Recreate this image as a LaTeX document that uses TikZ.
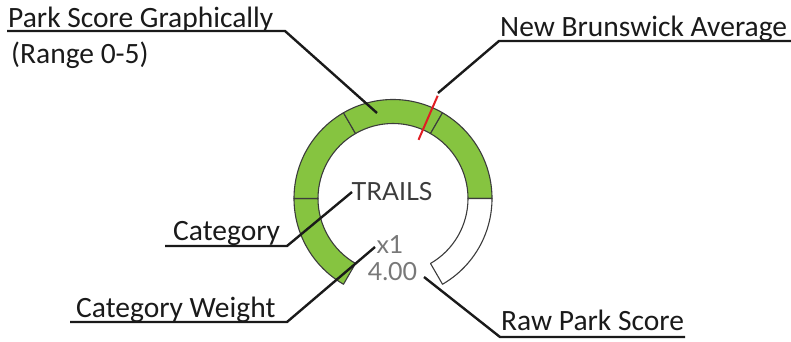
\documentclass[tikz,border=0pt]{standalone}
\usepackage{fontspec}
\setmainfont{Carlito}
\newfontfamily\gaugefont{Lato}
\usetikzlibrary{calc}
\definecolor{ringgreen}{RGB}{134,196,64}
\definecolor{ringline}{RGB}{60,60,60}
\definecolor{leader}{RGB}{26,26,26}
\definecolor{avgred}{RGB}{225,30,36}
\definecolor{catgray}{RGB}{60,60,60}
\definecolor{numgray}{RGB}{120,120,120}
\begin{document}
\begin{tikzpicture}[x=1pt,y=1pt,
  lbl/.style={inner sep=0pt, anchor=base west, font=\fontsize{29.5}{35}\selectfont, text=leader},
  gaugetext/.style={inner sep=0pt, anchor=base, font=\gaugefont\fontsize{25}{30}\selectfont},
  leaderline/.style={draw=leader, line width=2.4pt},
  seg/.style={draw=ringline, line width=1.1pt, line join=round},
]
\useasboundingbox (0,0) rectangle (791,341);
\coordinate (c) at (393,142.5);
% gauge segments
\foreach \a in {240,180,120,60}{
  \draw[seg, fill=ringgreen] ($(c)+(\a:99)$) arc[start angle=\a, delta angle=-60, radius=99]
    -- ($(c)+(\a-60:75)$) arc[start angle=\a-60, delta angle=60, radius=75] -- cycle;
}
\draw[seg, fill=white] ($(c)+(0:99)$) arc[start angle=0, end angle=-60, radius=99]
  -- ($(c)+(-60:75)$) arc[start angle=-60, end angle=0, radius=75] -- cycle;
% average marker
\coordinate (avg-in) at ($(c)+(66.5:64)$);
\coordinate (avg-out) at ($(c)+(66.5:112)$);
\draw[avgred, line width=2pt] (avg-in) -- (avg-out);
% gauge texts
\node[gaugetext, text=catgray] (trails) at (392,141) {TRAILS};
\node[gaugetext, text=numgray] (weight) at (390,88) {x1};
\node[gaugetext, text=numgray] (score) at (392.5,61) {4.00};
% labels
\node[lbl] (psg) at (8,313) {Park Score Graphically};
\node[lbl] (range) at (11,278) {(Range 0-5)};
\node[lbl] (nba) at (500,305) {New Brunswick Average};
\node[lbl] (cat) at (173,101) {Category};
\node[lbl] (catw) at (76,24) {Category Weight};
\node[lbl] (raw) at (501,11) {Raw Park Score};
% leader lines
\coordinate (psg-start) at (7,310);
\coordinate (psg-knee) at (285,310);
\coordinate (psg-end) at ($(c)+(100.6:87)$);
\draw[leaderline] (psg-start) -- (psg-knee) -- (psg-end);
\coordinate (nba-start) at (791,300);
\coordinate (nba-knee) at (499,300);
\coordinate (nba-end) at ($(c)+(66.9:114.7)$);
\draw[leaderline] (nba-start) -- (nba-knee) -- (nba-end);
\coordinate (cat-start) at (165,95);
\coordinate (cat-knee) at (287,95);
\coordinate (cat-end) at (352,149);
\draw[leaderline] (cat-start) -- (cat-knee) -- (cat-end);
\coordinate (catw-start) at (70,19);
\coordinate (catw-knee) at (287,19);
\coordinate (catw-end) at (375,94);
\draw[leaderline] (catw-start) -- (catw-knee) -- (catw-end);
\coordinate (raw-start) at (685,4);
\coordinate (raw-knee) at (500,4);
\coordinate (raw-end) at (424,64);
\draw[leaderline] (raw-start) -- (raw-knee) -- (raw-end);
\end{tikzpicture}
\end{document}
